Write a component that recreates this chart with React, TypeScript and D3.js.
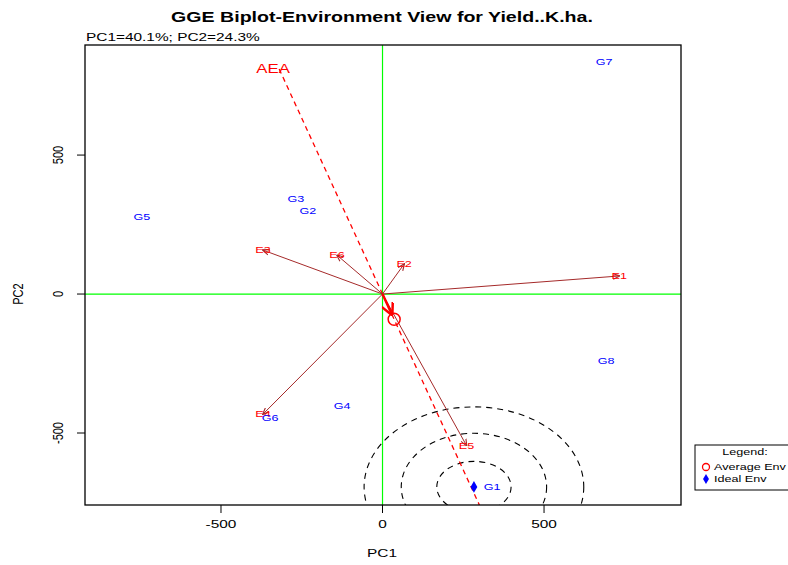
import React from 'react';
import * as d3 from 'd3';

// genotype scores (PC1, PC2)
const genoNames = ['G1', 'G2', 'G3', 'G4', 'G5', 'G6', 'G7', 'G8'];
const genoPC1 = [339, -231, -268, -125, -745, -348, 686, 692];
const genoPC2 = [-694, 299, 342, -403, 277, -446, 835, -241];

// environment vectors
const envNames = ['E1', 'E2', 'E3', 'E4', 'E5', 'E6'];
const envPC1 = [733, 67, -370, -370, 260, -141];
const envPC2 = [65, 108, 158, -432, -545, 140];

// average environment axis and ideal environment
const aeaEnd = [-320, 810];
const avgEnv = [36, -91];
const idealEnv = [283, -694];
const ringRx = [115, 225, 340];
const ringRy = [92, 193, 288];

const xTicks = [-500, 0, 500];
const yTicks = [-500, 0, 500];

const W = 788;
const H = 565;
const FONT = '"Liberation Sans", Arial, Helvetica, sans-serif';
const SX = 1.4; // the original picture is stretched sideways

type TProps = {
  x: number;
  y: number;
  size: number;
  fill?: string;
  anchor?: 'start' | 'middle' | 'end';
  bold?: boolean;
  rotate?: boolean;
  children: React.ReactNode;
};

function T({ x, y, size, fill = '#000', anchor = 'middle', bold, rotate, children }: TProps) {
  const tr = rotate
    ? `translate(${x},${y}) rotate(-90) scale(1,${SX})`
    : `translate(${x},${y}) scale(${SX},1)`;
  return (
    <text transform={tr} textAnchor={anchor} dy="0.35em" fontSize={size} fill={fill}
      fontWeight={bold ? 'bold' : 'normal'}>{children}</text>
  );
}

export default function App() {
  const x = d3.scaleLinear().domain([-921, 924]).range([85, 681]);
  const y = d3.scaleLinear().domain([-759, 896]).range([505, 45]);
  const [x0, x1] = x.range();
  const [y0, y1] = y.range();

  // dashed AEA line through the origin, down to the bottom of the plot
  const slope = aeaEnd[0] / aeaEnd[1];
  const bottomY = y.domain()[0];
  const aeaLine = d3.line<number[]>().x(d => x(d[0])).y(d => y(d[1]));

  return (
    <svg width={W} height={H} style={{ position: 'absolute', left: 0, top: 0, background: '#fff' }} fontFamily={FONT}>
      <defs>
        <marker id="brownHead" viewBox="0 0 10 10" refX="9" refY="5" markerWidth="7" markerHeight="7" orient="auto">
          <path d="M0,1 L10,5 L0,9" fill="none" stroke="#A52A2A" strokeWidth="1.6" />
        </marker>
        <marker id="redHead" viewBox="0 0 10 10" refX="9" refY="5" markerWidth="5" markerHeight="5" orient="auto">
          <path d="M0,0 L10,5 L0,10" fill="none" stroke="red" strokeWidth="2" />
        </marker>
        <clipPath id="plotClip">
          <rect x={x0} y={y1} width={x1 - x0} height={y0 - y1} />
        </clipPath>
      </defs>

      <T x={382} y={17} size={14} bold>GGE Biplot-Environment View for Yield..K.ha.</T>
      <T x={86} y={37} size={11} anchor="start">PC1=40.1%; PC2=24.3%</T>

      <g clipPath="url(#plotClip)">
        {/* green origin lines */}
        <line x1={x(0)} x2={x(0)} y1={y1} y2={y0} stroke="#00FF00" strokeWidth={1.2} />
        <line x1={x0} x2={x1} y1={y(0)} y2={y(0)} stroke="#00FF00" strokeWidth={1.2} />

        {/* concentric rings around the ideal environment */}
        {ringRx.map((r, i) => (
          <ellipse key={i} cx={x(idealEnv[0])} cy={y(idealEnv[1])}
            rx={x(r) - x(0)} ry={y(0) - y(ringRy[i])}
            fill="none" stroke="#000" strokeWidth={1.1} strokeDasharray="6,5" />
        ))}

        {/* average environment axis */}
        <path d={aeaLine([aeaEnd, [slope * bottomY, bottomY]]) || ''}
          fill="none" stroke="red" strokeWidth={1.3} strokeDasharray="5,4" />

        {/* environment vectors */}
        {envNames.map((n, i) => (
          <line key={n} x1={x(0)} y1={y(0)} x2={x(envPC1[i])} y2={y(envPC2[i])}
            stroke="#A52A2A" strokeWidth={1} markerEnd="url(#brownHead)" />
        ))}

        {/* arrow to average environment */}
        <line x1={x(0)} y1={y(0)} x2={x(avgEnv[0] * 0.8)} y2={y(avgEnv[1] * 0.8)}
          stroke="red" strokeWidth={2.5} markerEnd="url(#redHead)" />
        <circle cx={x(avgEnv[0])} cy={y(avgEnv[1])} r={6} fill="none" stroke="red" strokeWidth={1.5} />

        {/* ideal environment */}
        <path transform={`translate(${x(idealEnv[0])},${y(idealEnv[1])})`}
          d={d3.symbol(d3.symbolDiamond, 40)() || ''} fill="blue" />

        {envNames.map((n, i) => (
          <T key={n} x={x(envPC1[i])} y={y(envPC2[i])} size={9} fill="red">{n}</T>
        ))}
        {genoNames.map((n, i) => (
          <T key={n} x={x(genoPC1[i])} y={y(genoPC2[i])} size={9} fill="blue">{n}</T>
        ))}
        <T x={x(aeaEnd[0]) - 6} y={y(aeaEnd[1])} size={12} fill="red">AEA</T>
      </g>

      {/* frame */}
      <rect x={x0} y={y1} width={x1 - x0} height={y0 - y1} fill="none" stroke="#000" strokeWidth={1.3} />

      {/* x axis */}
      {xTicks.map(t => (
        <g key={t}>
          <line x1={x(t)} x2={x(t)} y1={y0} y2={y0 + 8} stroke="#000" />
          <T x={x(t)} y={524} size={11}>{t}</T>
        </g>
      ))}
      <T x={382} y={553} size={11}>PC1</T>

      {/* y axis */}
      {yTicks.map(t => (
        <g key={t}>
          <line x1={x0 - 8} x2={x0} y1={y(t)} y2={y(t)} stroke="#000" />
          <T x={58} y={y(t)} size={11} rotate>{t}</T>
        </g>
      ))}
      <T x={18} y={y(0)} size={11} rotate>PC2</T>

      {/* legend */}
      <rect x={695} y={445} width={110} height={45} fill="#fff" stroke="#000" strokeWidth={1} />
      <T x={745} y={452} size={9}>Legend:</T>
      <circle cx={706} cy={467} r={3.5} fill="none" stroke="red" strokeWidth={1.3} />
      <T x={714} y={467} size={9} anchor="start">Average Env</T>
      <path transform="translate(706,479)" d={d3.symbol(d3.symbolDiamond, 30)() || ''} fill="blue" />
      <T x={714} y={479} size={9} anchor="start">Ideal Env</T>
    </svg>
  );
}
